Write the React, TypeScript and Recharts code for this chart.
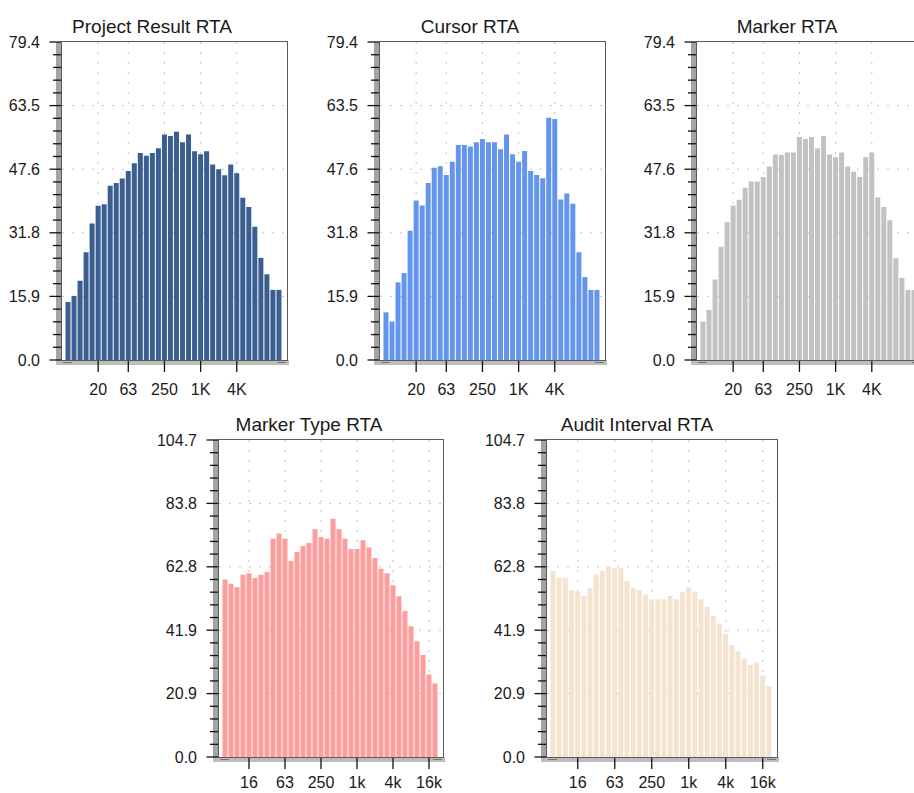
import React from 'react'
import { BarChart, Bar, XAxis, YAxis, CartesianGrid } from 'recharts'

// 1/3 octave bands, 6.3 Hz .. 20 kHz
const BANDS = [
  '6.3', '8', '10', '12.5', '16', '20', '25', '31.5', '40', '50', '63', '80',
  '100', '125', '160', '200', '250', '315', '400', '500', '630', '800', '1k', '1.25k',
  '1.6k', '2k', '2.5k', '3.15k', '4k', '5k', '6.3k', '8k', '10k', '12.5k', '16k', '20k',
]

const PROJECT_RESULT = [
  14.5, 16.0, 19.8, 26.9, 34.1, 38.5, 38.9, 43.5, 44.2, 45.3, 47.2, 49.1,
  51.7, 51.0, 51.7, 52.9, 56.3, 55.9, 57.0, 54.4, 56.3, 52.1, 51.4, 52.1,
  48.8, 47.6, 46.1, 48.8, 46.6, 40.5, 38.2, 33.3, 25.5, 21.4, 17.5, 17.5,
]
const CURSOR = [
  11.9, 9.6, 19.4, 21.7, 32.3, 39.8, 38.6, 44.2, 48.0, 48.4, 46.2, 49.5,
  53.7, 53.7, 53.3, 54.4, 55.2, 54.4, 54.4, 52.6, 56.3, 51.4, 49.5, 52.2,
  47.2, 46.2, 45.4, 60.5, 60.2, 40.1, 41.6, 39.0, 26.9, 20.7, 17.5, 17.5,
]
const MARKER = [
  9.6, 12.5, 20.1, 28.3, 34.4, 38.6, 40.0, 43.0, 44.6, 44.6, 45.7, 48.3,
  51.3, 51.2, 51.8, 51.8, 55.7, 55.2, 55.7, 52.9, 55.9, 51.3, 50.6, 51.8,
  48.3, 47.0, 45.7, 50.6, 51.8, 40.6, 38.2, 34.9, 25.4, 20.5, 17.5, 17.5,
]
const MARKER_TYPE = [
  58.6, 57.2, 56.1, 60.2, 60.7, 59.1, 60.2, 61.1, 72.1, 73.8, 72.1, 64.7,
  67.7, 69.7, 70.7, 75.2, 72.7, 72.1, 78.7, 75.2, 72.1, 68.7, 68.7, 71.6,
  69.2, 65.7, 62.2, 60.7, 56.7, 53.1, 48.2, 43.2, 38.2, 33.7, 27.2, 24.3,
]
const AUDIT_INTERVAL = [
  61.4, 59.2, 59.2, 55.1, 54.6, 53.2, 55.7, 60.3, 61.4, 62.8, 62.3, 62.3,
  58.1, 55.7, 55.1, 53.7, 52.1, 52.1, 52.1, 53.2, 52.1, 54.6, 56.1, 54.6,
  52.1, 49.6, 46.6, 44.1, 40.6, 36.9, 34.9, 32.3, 30.4, 31.2, 26.9, 23.4,
]

const TOP_TICKS = ['20', '63', '250', '1k', '4k']
const TOP_TICK_LABELS = ['20', '63', '250', '1K', '4K']
const BOTTOM_TICKS = ['16', '63', '250', '1k', '4k', '16k']
const BOTTOM_TICK_LABELS = ['16', '63', '250', '1k', '4k', '16k']

const TOP_Y_MAX = 79.4
const BOTTOM_Y_MAX = 104.7

const FONT = '"Liberation Sans", Arial, sans-serif'
const AXIS_W = 72
const PAD_TOP = 45
const PAD_BOTTOM = 45
const PAD_RIGHT = 10

function YTick({ x, y, index, payload }: any) {
  const major = index % 5 === 0
  return (
    <g>
      <line x1={x - (major ? 12.5 : 9)} x2={x} y1={y} y2={y} stroke="#111" strokeWidth={1.3} />
      {major && (
        <text x={x - 22} y={y} dy={5.5} textAnchor="end" fontSize={16} fontFamily={FONT} fill="#1a1a1a">
          {Number(payload.value).toFixed(1)}
        </text>
      )}
    </g>
  )
}

function XTick({ x, y, payload, ticks, labels, labelY }: any) {
  const i = ticks.indexOf(payload.value)
  if (i < 0) return <g />
  return (
    <g>
      <line x1={x} x2={x} y1={y} y2={y + 12} stroke="#111" strokeWidth={1.3} />
      <text x={x} y={y + labelY} textAnchor="middle" fontSize={16} fontFamily={FONT} fill="#1a1a1a">
        {labels[i]}
      </text>
    </g>
  )
}

type RtaProps = {
  title: string
  values: number[]
  color: string
  yMax: number
  ticks: string[]
  labels: string[]
  left: number
  top: number
  width: number
  height: number
  labelY: number
}

function RtaChart({ title, values, color, yMax, ticks, labels, left, top, width, height, labelY }: RtaProps) {
  const data = BANDS.map((band, i) => ({ band, value: values[i] }))
  // 5 minor steps between each labelled value
  const yTicks = Array.from({ length: 26 }, (_, i) => (yMax * i) / 25)
  const gridY = [1, 2, 3, 4].map((i) => (yMax * i) / 5)

  return (
    <>
      <div
        style={{
          position: 'absolute', left: left + 90 - 150, top: top - 25, width: 300,
          textAlign: 'center', fontFamily: FONT, fontSize: 19, lineHeight: '19px', color: '#1a1a1a',
        }}
      >
        {title}
      </div>
      {/* grey 3d axis bands */}
      <div style={{ position: 'absolute', left: left - 6, top: top, width: 6, height: height + 4, background: '#a4a4a4' }} />
      <div style={{ position: 'absolute', left: left - 6, top: top + height, width: width + 8, height: 5, background: '#bdbdbd' }} />
      <div style={{ position: 'absolute', left: left + 1, top: top + height + 2, width: 9, height: 1, background: '#777' }} />
      <div style={{ position: 'absolute', left: left + width - 10, top: top + height + 2, width: 9, height: 1, background: '#777' }} />
      <div style={{ position: 'absolute', left: left - AXIS_W, top: top - PAD_TOP }}>
        <BarChart
          width={AXIS_W + width + PAD_RIGHT}
          height={PAD_TOP + height + PAD_BOTTOM}
          data={data}
          margin={{ top: PAD_TOP, right: PAD_RIGHT, bottom: 0, left: 0 }}
          barCategoryGap="8%"
        >
          <CartesianGrid
            horizontalValues={gridY}
            verticalValues={ticks}
            stroke="#c2c2c2"
            strokeDasharray="2 8"
          />
          <XAxis
            dataKey="band"
            type="category"
            interval={0}
            height={PAD_BOTTOM}
            padding={{ left: 3, right: 5 }}
            axisLine={false}
            tickLine={false}
            tickSize={0}
            tickMargin={0}
            tick={<XTick ticks={ticks} labels={labels} labelY={labelY} />}
          />
          <YAxis
            type="number"
            domain={[0, yMax]}
            ticks={yTicks}
            interval={0}
            width={AXIS_W}
            axisLine={false}
            tickLine={false}
            tickSize={0}
            tickMargin={0}
            allowDataOverflow
            tick={<YTick />}
          />
          <Bar dataKey="value" fill={color} isAnimationActive={false} />
        </BarChart>
      </div>
      <div
        style={{
          position: 'absolute', left: left - 1, top: top - 1, width: width + 2, height: height + 2,
          border: '1px solid #5a5a5a', boxSizing: 'border-box',
        }}
      />
    </>
  )
}

export default function App() {
  return (
    <div style={{ position: 'absolute', left: 0, top: 0, width: 914, height: 793, overflow: 'hidden', background: '#fff' }}>
      <RtaChart title="Project Result RTA" values={PROJECT_RESULT} color="#3a5e8f" yMax={TOP_Y_MAX}
        ticks={TOP_TICKS} labels={TOP_TICK_LABELS} left={62} top={42} width={225} height={318} labelY={35} />
      <RtaChart title="Cursor RTA" values={CURSOR} color="#6495ed" yMax={TOP_Y_MAX}
        ticks={TOP_TICKS} labels={TOP_TICK_LABELS} left={380} top={42} width={225} height={318} labelY={35} />
      <RtaChart title="Marker RTA" values={MARKER} color="#c2c2c2" yMax={TOP_Y_MAX}
        ticks={TOP_TICKS} labels={TOP_TICK_LABELS} left={697} top={42} width={225} height={318} labelY={35} />
      <RtaChart title="Marker Type RTA" values={MARKER_TYPE} color="#ff9d9d" yMax={BOTTOM_Y_MAX}
        ticks={BOTTOM_TICKS} labels={BOTTOM_TICK_LABELS} left={219} top={440} width={224} height={317} labelY={31} />
      <RtaChart title="Audit Interval RTA" values={AUDIT_INTERVAL} color="#f3e3cf" yMax={BOTTOM_Y_MAX}
        ticks={BOTTOM_TICKS} labels={BOTTOM_TICK_LABELS} left={547} top={440} width={230} height={317} labelY={31} />
    </div>
  )
}
